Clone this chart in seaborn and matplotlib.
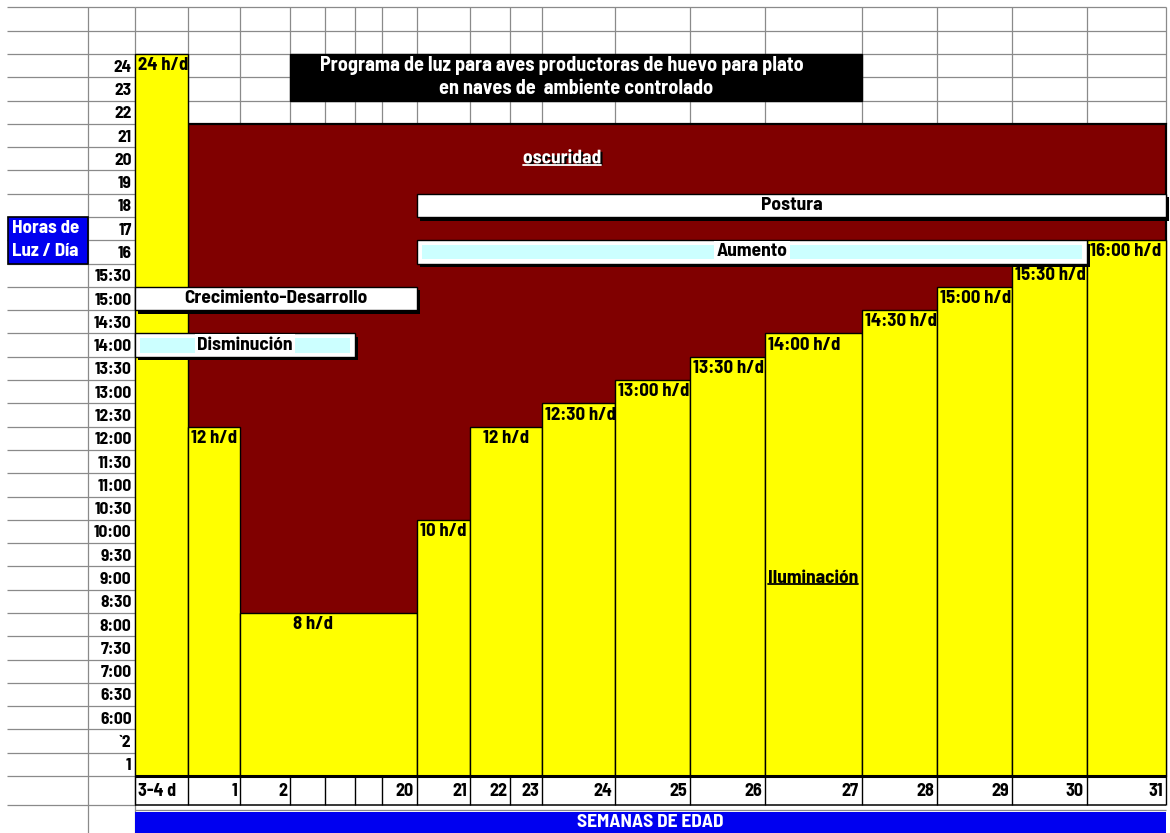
import numpy as np
import matplotlib
matplotlib.use("Agg")
import matplotlib.pyplot as plt
import matplotlib.patheffects as pe
from matplotlib.patches import Rectangle
from matplotlib.lines import Line2D
from matplotlib.transforms import IdentityTransform
import seaborn as sns

# ---------------------------------------------------------------- data
# Cells of the week row (blank cells are part of the 2-20 span)
week_cells = ["3-4 d", "1", "2", "", "", "", "20", "21", "22", "23",
              "24", "25", "26", "27", "28", "29", "30", "31"]

# Lighting steps: first / last week cell covered and hours of light per day
step_first = [0, 1, 2, 7, 8, 10, 11, 12, 13, 14, 15, 16, 17]
step_last = [0, 1, 6, 7, 9, 10, 11, 12, 13, 14, 15, 16, 17]
light_hours = [24, 12, 8, 10, 12, 12.5, 13, 13.5, 14, 14.5, 15, 15.5, 16]
clock_style = [False, False, False, False, False,
               True, True, True, True, True, True, True, True]

# Darkness band from week 1 onwards, up to 21 h
dark_until = 21

# Row labels of the hour column, bottom to top
hour_rows = ["1", "`2", "6:00", "6:30", "7:00", "7:30", "8:00", "8:30",
             "9:00", "9:30", "10:00", "10:30", "11:00", "11:30", "12:00",
             "12:30", "13:00", "13:30", "14:00", "14:30", "15:00", "15:30",
             "16", "17", "18", "19", "20", "21", "22", "23", "24"]

# Program phases: covered week cells and hour band
phase_names = ["Crecimiento-Desarrollo", "Disminución", "Postura", "Aumento"]
phase_cells = [(0, 6), (0, 4), (7, 17), (7, 16)]
phase_hours = [(14.5, 15), (13.5, 14), (17, 18), (15.5, 16)]
phase_fill = ["white", "#ccffff", "white", "#ccffff"]

title_lines = ["Programa de luz para aves productoras de huevo para plato",
               "en naves de  ambiente controlado"]

# ---------------------------------------------------------------- layout
col_edges = np.array([135, 188, 240, 290, 325, 355, 382, 417, 470, 510, 542,
                      615, 690, 765, 862, 937, 1012, 1087, 1166], float)
label_cell = [0, 1, 3, 7, 8, 10, 11, 12, 13, 14, 15, 16, 17]
label_centered = [False, False, False, False, True, False, False, False,
                  False, False, False, False, False]
title_x = [562, 576]
ROW_PX = 23.29
ROWS_ABOVE = 776 / ROW_PX
ROWS_BELOW = (833 - 776) / ROW_PX
YELLOW = "#ffff00"
DARK_RED = "#800000"
BLUE = "#0000f0"
GRID = "#8a8a8a"
FS_TEXT = 14
FS_BAR = 13.5
FS_TICK = 12.5
FS_TITLE = 14.5

# The hour axis is laid out like a spreadsheet: one row per hour above 16 h,
# half-hour rows between 6 h and 16 h, two-hour rows below 6 h.
H_KNOTS = np.array([-20.0, 6.0, 16.0, 50.0])
R_KNOTS = np.array([-10.0, 3.0, 23.0, 57.0])


def h2r(h):
    return np.interp(h, H_KNOTS, R_KNOTS)


def r2h(r):
    return np.interp(r, R_KNOTS, H_KNOTS)


sns.set_theme(style="white")
plt.rcParams["font.family"] = ["Barlow Semi Condensed", "DejaVu Sans"]
plt.rcParams["font.weight"] = "bold"

fig = plt.figure(figsize=(11.7, 8.33), dpi=100)
ax = fig.add_axes([0, 0, 1, 1])
ax.set_yscale("function", functions=(h2r, r2h))
ax.set_xlim(0, 1170)
ax.set_ylim(float(r2h(-ROWS_BELOW)), float(r2h(ROWS_ABOVE)))
ax.set_facecolor("white")


def hline(r, x0, x1, **kw):
    ax.hlines(r2h(r), x0, x1, **kw)


def vline(x, r0, r1, **kw):
    ax.vlines(x, float(r2h(r0)), float(r2h(r1)), **kw)


# spreadsheet grid
grid_kw = dict(color=GRID, lw=0.9, zorder=1)
hline(np.arange(0, 34), 7, col_edges[0], **grid_kw)
hline(np.arange(29, 34), col_edges[0], col_edges[-1], **grid_kw)
hline(-1.245, 7, col_edges[0], **grid_kw)
hline(-1.46, col_edges[0], col_edges[-1], **grid_kw)
for x in (88, col_edges[0]):
    vline(x, -ROWS_BELOW, 33, **grid_kw)
for x in col_edges[1:]:
    vline(x, 28, 33, **grid_kw)

# week row frame
hline(0, col_edges[0], col_edges[-1], color="black", lw=2.2, zorder=6)
hline(-1.245, col_edges[0], col_edges[-1], color="black", lw=1.1, zorder=6)
for x in col_edges:
    vline(x, -1.245, 0, color="black", lw=1.0, zorder=6)

# darkness band
ax.bar(col_edges[1], dark_until, width=col_edges[-1] - col_edges[1],
       bottom=0, align="edge", color=DARK_RED, edgecolor="black",
       linewidth=1.6, zorder=2)

# light hours per step
lefts = col_edges[step_first]
widths = col_edges[np.array(step_last) + 1] - lefts
ax.bar(lefts, light_hours, width=widths, bottom=0, align="edge",
       color=YELLOW, edgecolor="black", linewidth=1.0, zorder=3)


def fmt(h, clock):
    if clock:
        return f"{int(h)}:{int(round((h % 1) * 60)):02d} h/d"
    return f"{h:g} h/d"


for i, h in enumerate(light_hours):
    if label_centered[i]:
        x = lefts[i] + widths[i] / 2
        ha = "center"
    else:
        x = col_edges[label_cell[i]] + 3
        ha = "left"
    ax.annotate(fmt(h, clock_style[i]), xy=(x, h),
                xytext=(0, -ROW_PX / 2), textcoords="offset pixels",
                ha=ha, va="center", fontsize=FS_BAR, color="black", zorder=7)

# phase boxes
shadow = [pe.SimplePatchShadow(offset=(2.5, -2.5), shadow_rgbFace="black",
                               alpha=1.0), pe.Normal()]
for name, (c0, c1), (h0, h1), fill in zip(phase_names, phase_cells,
                                           phase_hours, phase_fill):
    x0, x1 = col_edges[c0], col_edges[c1 + 1]
    ax.add_patch(Rectangle((x0, h0), x1 - x0, h1 - h0, facecolor="white",
                           edgecolor="black", lw=1.0, zorder=8,
                           path_effects=shadow))
    r0, r1 = h2r(h0), h2r(h1)
    if fill != "white":
        ih0, ih1 = r2h(r0 + 0.18), r2h(r1 - 0.18)
        ax.add_patch(Rectangle((x0 + 5, ih0), x1 - x0 - 10, ih1 - ih0,
                               facecolor=fill, edgecolor="none", zorder=8.5))
        box = dict(facecolor="white", edgecolor="none", pad=1.5)
    else:
        box = None
    ax.text((x0 + x1) / 2, float(r2h((r0 + r1) / 2)), name, ha="center",
            va="center", fontsize=FS_TEXT, color="black", zorder=9, bbox=box)

# title block
tx0, tx1 = col_edges[3], col_edges[14]
ax.add_patch(Rectangle((tx0, r2h(29)), tx1 - tx0, r2h(31) - r2h(29),
                       facecolor="black", edgecolor="black", zorder=8))
for k, line in enumerate(title_lines):
    ax.text(title_x[k], float(r2h(30.5 - k)), line, ha="center",
            va="center", fontsize=FS_TITLE, color="white", zorder=9)

# hours-of-light caption
ax.add_patch(Rectangle((8, r2h(22)), 80, r2h(24) - r2h(22), facecolor=BLUE,
                       edgecolor="black", lw=1.2, zorder=8))
ax.text(12, float(r2h(23.5)), "Horas de", ha="left", va="center",
        fontsize=FS_TEXT - 0.3, color="white", zorder=9)
ax.text(12, float(r2h(22.5)), "Luz / Día", ha="left", va="center",
        fontsize=FS_TEXT - 0.3, color="white", zorder=9)

# weeks caption
ax.add_patch(Rectangle((col_edges[0], r2h(-ROWS_BELOW - 0.2)),
                       col_edges[-1] - col_edges[0],
                       r2h(-1.546) - r2h(-ROWS_BELOW - 0.2),
                       facecolor=BLUE, edgecolor="none", zorder=8))
ax.text((col_edges[0] + col_edges[-1]) / 2, float(r2h(-2.0)),
        "SEMANAS DE EDAD", ha="center", va="center", fontsize=FS_TEXT,
        color="white", zorder=9)

# region captions
t_dark = ax.text(562, float(r2h(26.5)), "oscuridad", ha="center",
                 va="center", fontsize=FS_TEXT, color="white", zorder=9,
                 path_effects=[pe.withSimplePatchShadow(
                     offset=(1.5, -1.5), shadow_rgbFace="black", alpha=1.0)])
t_light = ax.text(col_edges[13] + 3, float(r2h(h2r(8.75))), "Iluminación",
                  ha="left", va="center", fontsize=FS_TEXT, color="black",
                  zorder=9)

# axes: hour rows on the left, weeks along the bottom
for sp in ax.spines.values():
    sp.set_color("none")
ax.spines["left"].set_position(("data", col_edges[0]))
ax.spines["bottom"].set_position(("data", 0))

ax.set_yticks(r2h(np.arange(len(hour_rows)) + 0.5))
ax.set_yticklabels(hour_rows)
ax.tick_params(axis="y", length=0, pad=2.5, labelsize=FS_TICK,
               labelcolor="black")
ax.yaxis.set_minor_locator(matplotlib.ticker.NullLocator())

xt, xl, xha = [], [], []
for i, lab in enumerate(week_cells):
    if not lab:
        continue
    if lab.isdigit():
        xt.append(col_edges[i + 1] - 3)
        xha.append("right")
    else:
        xt.append(col_edges[i] + 3)
        xha.append("left")
    xl.append(lab)
ax.set_xticks(xt)
ax.set_xticklabels(xl)
for lab, ha in zip(ax.get_xticklabels(), xha):
    lab.set_horizontalalignment(ha)
ax.tick_params(axis="x", length=0, pad=5, labelsize=FS_TICK + 0.5,
               labelcolor="black")
ax.xaxis.set_minor_locator(matplotlib.ticker.NullLocator())

# underline the two region captions
fig.canvas.draw()
for t, c in ((t_dark, "white"), (t_light, "black")):
    bb = t.get_window_extent()
    y = bb.y0 + 2.5
    fig.add_artist(Line2D([bb.x0, bb.x1], [y, y], color=c, lw=1.3,
                          transform=IdentityTransform(), zorder=10))

fig.savefig("out.png", dpi=100)
